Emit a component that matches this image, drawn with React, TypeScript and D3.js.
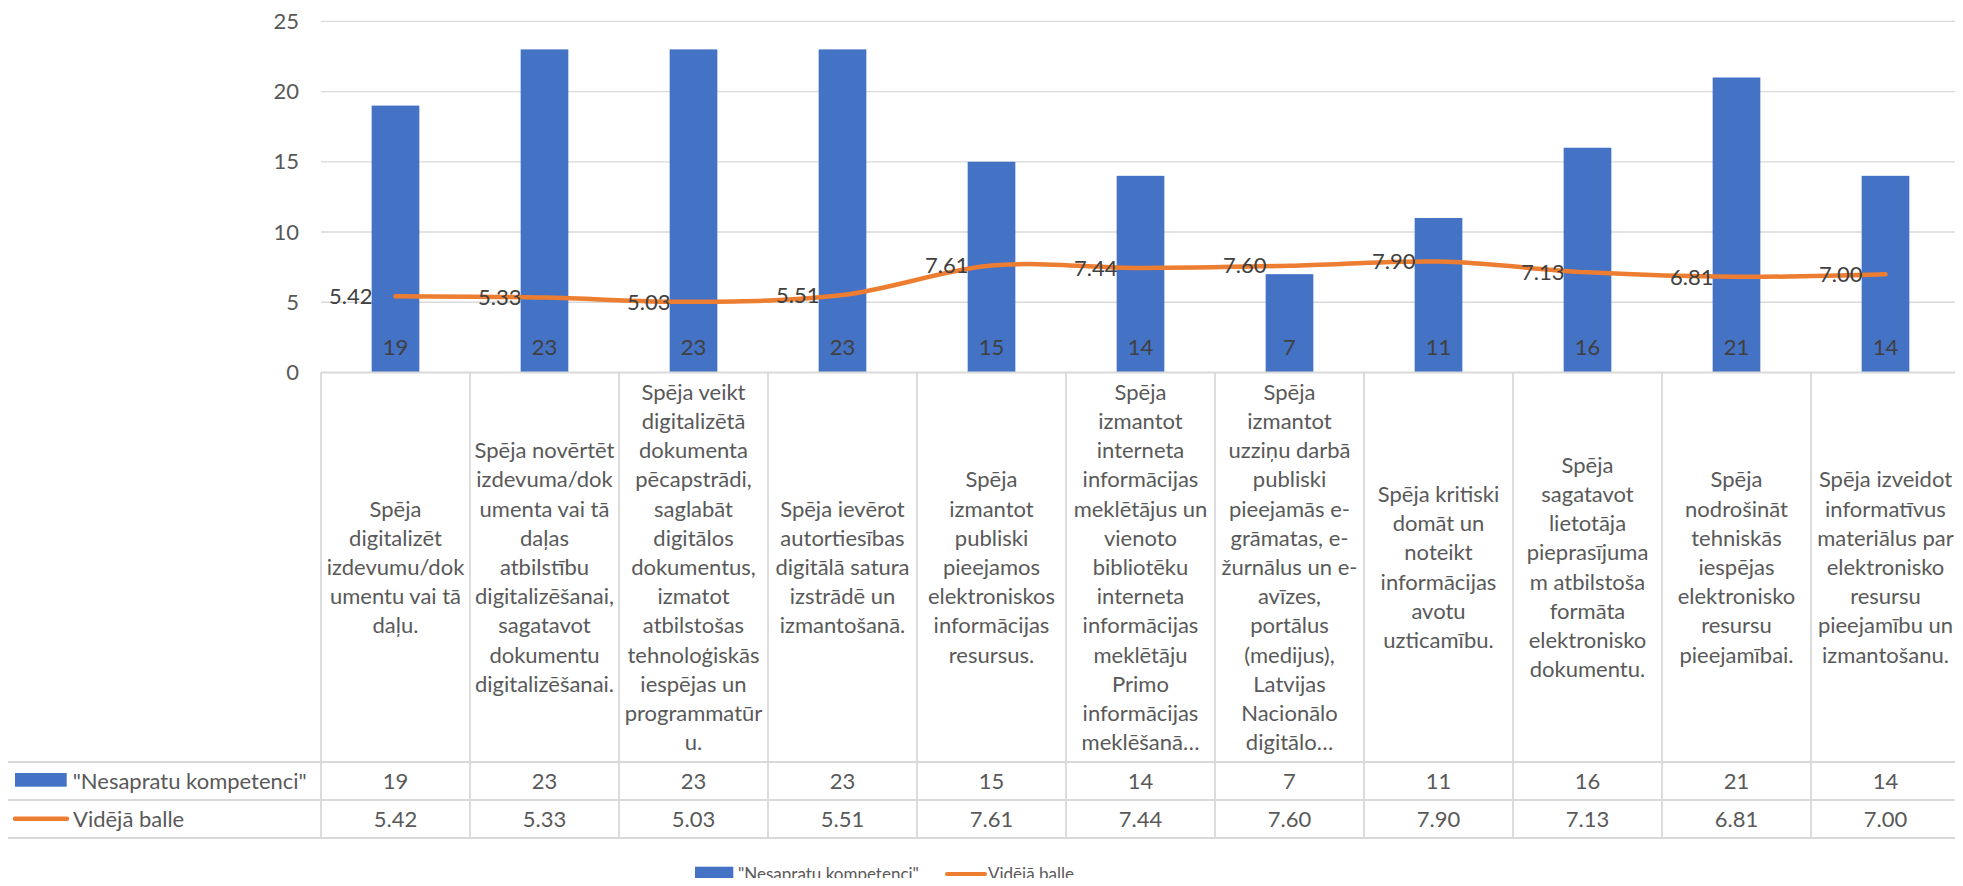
import React from "react";
import * as d3 from "d3";

const categories: string[][] = [
  ["Spēja", "digitalizēt", "izdevumu/dok", "umentu vai tā", "daļu."],
  ["Spēja novērtēt", "izdevuma/dok", "umenta vai tā", "daļas", "atbilstību", "digitalizēšanai,", "sagatavot", "dokumentu", "digitalizēšanai."],
  ["Spēja veikt", "digitalizētā", "dokumenta", "pēcapstrādi,", "saglabāt", "digitālos", "dokumentus,", "izmatot", "atbilstošas", "tehnoloģiskās", "iespējas un", "programmatūr", "u."],
  ["Spēja ievērot", "autortiesības", "digitālā satura", "izstrādē un", "izmantošanā."],
  ["Spēja", "izmantot", "publiski", "pieejamos", "elektroniskos", "informācijas", "resursus."],
  ["Spēja", "izmantot", "interneta", "informācijas", "meklētājus un", "vienoto", "bibliotēku", "interneta", "informācijas", "meklētāju", "Primo", "informācijas", "meklēšanā…"],
  ["Spēja", "izmantot", "uzziņu darbā", "publiski", "pieejamās e-", "grāmatas, e-", "žurnālus un e-", "avīzes,", "portālus", "(medijus),", "Latvijas", "Nacionālo", "digitālo…"],
  ["Spēja kritiski", "domāt un", "noteikt", "informācijas", "avotu", "uzticamību."],
  ["Spēja", "sagatavot", "lietotāja", "pieprasījuma", "m atbilstoša", "formāta", "elektronisko", "dokumentu."],
  ["Spēja", "nodrošināt", "tehniskās", "iespējas", "elektronisko", "resursu", "pieejamībai."],
  ["Spēja izveidot", "informatīvus", "materiālus par", "elektronisko", "resursu", "pieejamību un", "izmantošanu."],
];

const barSeriesName = "\"Nesapratu kompetenci\"";
const lineSeriesName = "Vidējā balle";
const barValues: number[] = [19, 23, 23, 23, 15, 14, 7, 11, 16, 21, 14];
const lineValues: number[] = [5.42, 5.33, 5.03, 5.51, 7.61, 7.44, 7.6, 7.9, 7.13, 6.81, 7.0];
const yTicks: number[] = [0, 5, 10, 15, 20, 25];

const W = 1963;
const H = 886;
const FONT = "Lato, 'Open Sans', sans-serif";
const FS = 22;
const LFS = 17;
const BLUE = "#4472C4";
const ORANGE = "#ED7D31";
const GRID = "#D9D9D9";
const TXT = "#595959";
const LBL = "#404040";

export default function App() {
  const left = 321;
  const right = 1960;
  const yTop = 21.3;
  const yBase = 372.5;
  const tableTop = yBase;
  const catBottom = 762;
  const row1Bottom = 800;
  const row2Bottom = 838;
  const tableLeft = 7;
  const lineH = 29.2;

  const idx = categories.map((_, i) => String(i));
  const x = d3.scaleBand<string>().domain(idx).range([left, right]).paddingInner(0).paddingOuter(0);
  const y = d3.scaleLinear().domain([0, 25]).range([yBase, yTop]);
  const bw = x.bandwidth() * 0.32;
  const cx = (i: number) => (x(String(i)) as number) + x.bandwidth() / 2;

  const lineGen = d3
    .line<number>()
    .x((_, i) => cx(i))
    .y((d) => y(d))
    .curve(d3.curveCatmullRom.alpha(0.5));

  const catMid = (tableTop + catBottom) / 2;

  return (
    <div style={{ margin: -8 }}>
      <svg width={W} height={H} style={{ display: "block", background: "#fff" }} fontFamily={FONT}>
        {yTicks.filter((t) => t > 0).map((t) => (
          <line key={"g" + t} x1={left} x2={right} y1={y(t)} y2={y(t)} stroke={GRID} strokeWidth={1.3} />
        ))}
        {yTicks.map((t) => (
          <text key={"t" + t} x={299} y={y(t)} dy="0.35em" textAnchor="end" fontSize={FS} fill={TXT}>
            {t}
          </text>
        ))}
        {barValues.map((v, i) => (
          <rect key={"b" + i} x={cx(i) - bw / 2} y={y(v)} width={bw} height={yBase - y(v)} fill={BLUE} />
        ))}
        {barValues.map((v, i) => (
          <text key={"bl" + i} x={cx(i)} y={347} dy="0.35em" textAnchor="middle" fontSize={FS} fill={LBL}>
            {v}
          </text>
        ))}
        <path d={lineGen(lineValues) || ""} fill="none" stroke={ORANGE} strokeWidth={4.5} strokeLinecap="round" strokeLinejoin="round" />
        {lineValues.map((v, i) => (
          <text key={"ll" + i} x={cx(i) - 23} y={y(v)} dy="0.35em" textAnchor="end" fontSize={FS} fill={LBL}>
            {v.toFixed(2)}
          </text>
        ))}
        <g stroke={GRID} strokeWidth={1.8} fill="none">
          <line x1={left} x2={right} y1={tableTop} y2={tableTop} />
          <line x1={tableLeft} x2={right} y1={catBottom} y2={catBottom} />
          <line x1={tableLeft} x2={right} y1={row1Bottom} y2={row1Bottom} />
          <line x1={tableLeft} x2={right} y1={row2Bottom} y2={row2Bottom} />
          <line x1={tableLeft} x2={tableLeft} y1={catBottom} y2={row2Bottom} />
          {categories.map((_, i) => (
            <line key={"v" + i} x1={x(String(i))} x2={x(String(i))} y1={tableTop} y2={row2Bottom} />
          ))}
          <line x1={right} x2={right} y1={tableTop} y2={row2Bottom} />
        </g>
        {categories.map((lines, i) => {
          const start = catMid - ((lines.length - 1) * lineH) / 2;
          return (
            <text key={"c" + i} textAnchor="middle" fontSize={FS} fill={TXT}>
              {lines.map((l, j) => (
                <tspan key={j} x={cx(i)} y={start + j * lineH} dy="0.35em">
                  {l}
                </tspan>
              ))}
            </text>
          );
        })}
        {barValues.map((v, i) => (
          <text key={"tv1" + i} x={cx(i)} y={(catBottom + row1Bottom) / 2} dy="0.35em" textAnchor="middle" fontSize={FS} fill={TXT}>
            {v}
          </text>
        ))}
        {lineValues.map((v, i) => (
          <text key={"tv2" + i} x={cx(i)} y={(row1Bottom + row2Bottom) / 2} dy="0.35em" textAnchor="middle" fontSize={FS} fill={TXT}>
            {v.toFixed(2)}
          </text>
        ))}
        <rect x={15} y={773} width={51.7} height={13.7} fill={BLUE} />
        <text x={72.7} y={781} dy="0.35em" fontSize={FS} fill={TXT}>{barSeriesName}</text>
        <line x1={15} x2={67} y1={818.7} y2={818.7} stroke={ORANGE} strokeWidth={4.5} strokeLinecap="round" />
        <text x={73} y={819} dy="0.35em" fontSize={FS} fill={TXT}>{lineSeriesName}</text>
        <rect x={695} y={866.7} width={38.3} height={14} fill={BLUE} />
        <text x={738} y={874} dy="0.35em" fontSize={LFS} fill={TXT}>{barSeriesName}</text>
        <line x1={947} x2={985} y1={874} y2={874} stroke={ORANGE} strokeWidth={4} strokeLinecap="round" />
        <text x={988} y={874} dy="0.35em" fontSize={LFS} fill={TXT}>{lineSeriesName}</text>
      </svg>
    </div>
  );
}
